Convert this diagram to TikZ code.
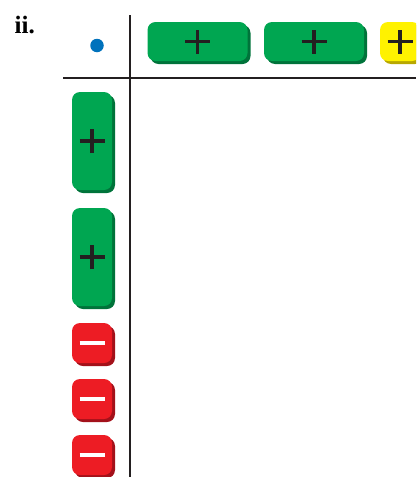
\documentclass[tikz,border=0pt]{standalone}
\usepackage{fontspec}
\setmainfont{Liberation Serif}
\usetikzlibrary{shadows}
\definecolor{tgreen}{HTML}{00A651}
\definecolor{tgreendk}{HTML}{00733A}
\definecolor{tred}{HTML}{ED1C24}
\definecolor{treddk}{HTML}{A3111A}
\definecolor{tyellow}{HTML}{FFF200}
\definecolor{tyellowdk}{HTML}{B8A800}
\definecolor{ink}{HTML}{231F20}
\definecolor{dotblue}{HTML}{0072BC}
\tikzset{
  tilebase/.style={rounded corners=8pt, inner sep=0pt, draw=none},
  gtile/.style={tilebase, fill=tgreen, drop shadow={shadow xshift=3pt, shadow yshift=-3pt, fill=tgreendk, opacity=1}},
  rtile/.style={tilebase, fill=tred, minimum width=40pt, minimum height=40pt, drop shadow={shadow xshift=3pt, shadow yshift=-3pt, fill=treddk, opacity=1}},
  ytile/.style={tilebase, fill=tyellow, minimum width=40pt, minimum height=39pt, drop shadow={shadow xshift=3pt, shadow yshift=-3pt, fill=tyellowdk, opacity=1}},
  htile/.style={gtile, minimum width=100pt, minimum height=39pt},
  vtile/.style={gtile, minimum width=40pt, minimum height=98pt},
  plusline/.style={draw=ink, line width=3.8pt},
  minusline/.style={draw=white, line width=4pt},
  axis/.style={draw=ink, line width=2pt}
}
\newcommand{\plussign}[1]{%
  \path[plusline] ([xshift=-12.5pt]#1.center) -- ([xshift=12.5pt]#1.center);
  \path[plusline] ([yshift=-12pt]#1.center) -- ([yshift=12pt]#1.center);}
\newcommand{\minussign}[1]{%
  \path[minusline] ([xshift=-12.5pt]#1.center) -- ([xshift=12.5pt]#1.center);}
\begin{document}
\begin{tikzpicture}[x=1pt,y=-1pt]
\useasboundingbox (0,0) rectangle (416,477);
\clip (0,0) rectangle (416,477);
\node[anchor=base west, inner sep=0pt, font=\fontsize{25}{25}\selectfont\bfseries] (lbl) at (14.5,33.5) {ii.};
% axes
\coordinate (vtop) at (130,15);
\coordinate (vbot) at (130,477);
\coordinate (hl) at (63,78);
\coordinate (hr) at (416,78);
\path[axis] (vtop) -- (vbot);
\path[axis] (hl) -- (hr);
% dot
\node[circle, fill=dotblue, minimum size=13.5pt, inner sep=0pt] (dot) at (97,45.5) {};
% top tiles
\node[htile] (h1) at (197.5,41.5) {};
\node[htile] (h2) at (314,41.5) {};
\node[ytile] (y1) at (400,41.5) {};
\plussign{h1}
\plussign{h2}
\plussign{y1}
% left tiles
\node[vtile] (v1) at (92,141) {};
\node[vtile] (v2) at (92,257) {};
\plussign{v1}
\plussign{v2}
\node[rtile] (r1) at (92,343) {};
\node[rtile] (r2) at (92,399) {};
\node[rtile] (r3) at (92,455) {};
\minussign{r1}
\minussign{r2}
\minussign{r3}
\end{tikzpicture}
\end{document}
